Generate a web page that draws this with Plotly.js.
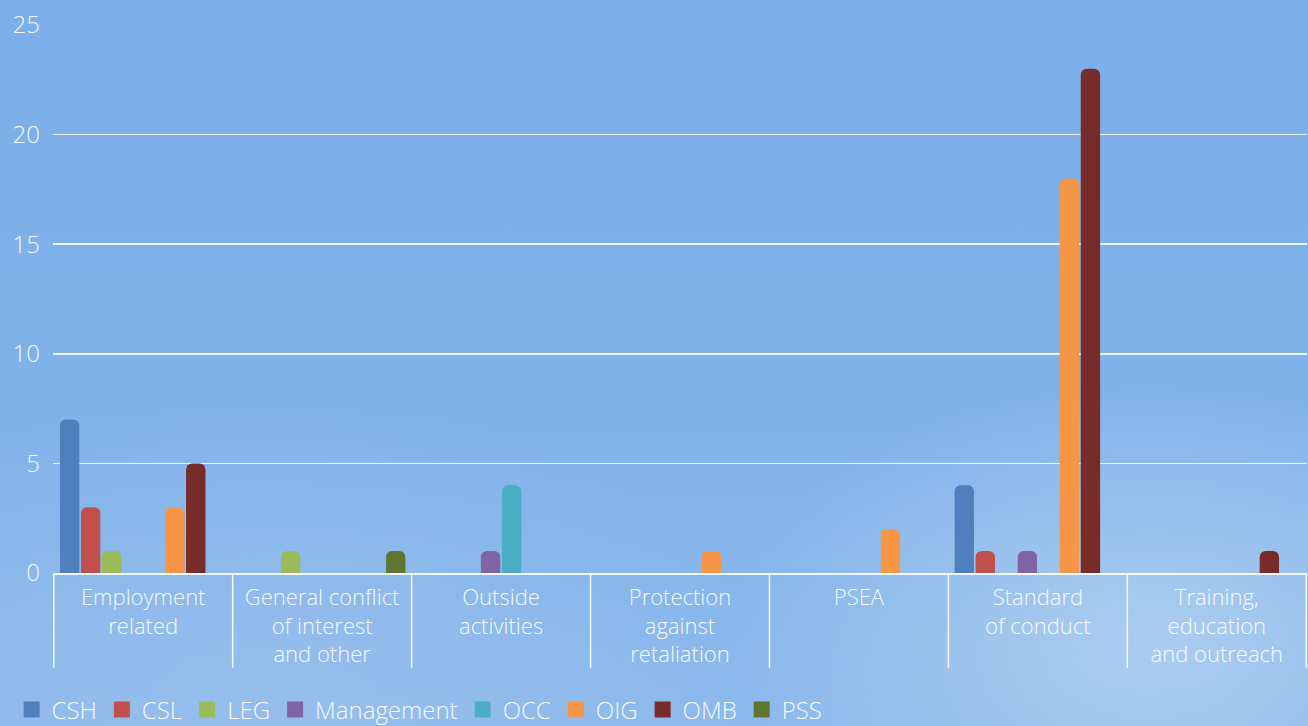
<!DOCTYPE html>
<html>
<head>
<meta charset="utf-8">
<script src="https://cdn.plot.ly/plotly-3.0.1.min.js"></script>
<style>
  html, body { margin: 0; padding: 0; width: 1308px; height: 726px; overflow: hidden; }
  body {
    background:
      radial-gradient(ellipse 420px 260px at 88% 88%, rgba(200,222,244,0.55), rgba(200,222,244,0) 100%),
      radial-gradient(ellipse 500px 300px at 20% 95%, rgba(170,200,238,0.35), rgba(170,200,238,0) 100%),
      linear-gradient(180deg, #7cafe9 0%, #80b2ea 55%, #8cb9eb 100%);
  }
  #chart { width: 1308px; height: 726px; }
</style>
</head>
<body>
<div id="chart"></div>
<script>
// Categories (x axis tick labels)
const categories = [
  "Employment<br>related",
  "General conflict<br>of interest<br>and other",
  "Outside<br>activities",
  "Protection<br>against<br>retaliation",
  "PSEA",
  "Standard<br>of conduct",
  "Training,<br>education<br>and outreach"
];

// Series names
const seriesNames = ["CSH", "CSL", "LEG", "Management", "OCC", "OIG", "OMB", "PSS"];

// Series values per category (null = no bar)
const CSH        = [7,    null, null, null, null, 4,    null];
const CSL        = [3,    null, null, null, null, 1,    null];
const LEG        = [1,    1,    null, null, null, null, null];
const Management = [null, null, 1,    null, null, 1,    null];
const OCC        = [null, null, 4,    null, null, null, null];
const OIG        = [3,    null, null, 1,    2,    18,   null];
const OMB        = [5,    null, null, null, null, 23,   1];
const PSS        = [null, 1,    null, null, null, null, null];

// Y tick values
const yTicks = [0, 5, 10, 15, 20, 25];

const seriesValues = [CSH, CSL, LEG, Management, OCC, OIG, OMB, PSS];
const seriesColors = ["#4f80bd", "#c0504d", "#9bbb59", "#8064a2", "#4bacc6", "#f79646", "#772c29", "#5e7631"];

const FONT = "'Open Sans', Roboto, sans-serif";
const TXT = "rgba(255,255,255,0.95)";

const barTraces = seriesNames.map((name, i) => ({
  type: "bar",
  name: name,
  legendgroup: name,
  showlegend: false,
  x: categories,
  y: seriesValues[i],
  marker: { color: seriesColors[i], cornerradius: 6, line: { width: 0 } },
  hoverinfo: "skip"
}));

// legend-only entries (square swatches), no marks drawn
const legendTraces = seriesNames.map((name, i) => ({
  type: "scatter",
  mode: "markers",
  name: name,
  legendgroup: name,
  showlegend: true,
  x: [null],
  y: [null],
  marker: { color: seriesColors[i], symbol: "square", size: 16 },
  hoverinfo: "skip"
}));

// divider lines between categories, extending below the axis
const shapes = [];
for (let k = 0; k <= categories.length; k++) {
  shapes.push({
    type: "line", xref: "x", yref: "paper",
    x0: k - 0.5, x1: k - 0.5, y0: 0, y1: -0.173,
    line: { color: "rgba(255,255,255,0.9)", width: 1.5 },
    layer: "above"
  });
}

const layout = {
  width: 1308, height: 726,
  margin: { l: 53, r: 1, t: 25, b: 153, autoexpand: false },
  paper_bgcolor: "rgba(0,0,0,0)",
  plot_bgcolor: "rgba(0,0,0,0)",
  barmode: "group",
  bargap: 0.06,
  bargroupgap: 0.08,
  font: { family: FONT, color: TXT, size: 22, weight: 300 },
  showlegend: true,
  legend: {
    orientation: "h",
    x: -0.033, xanchor: "left",
    y: -0.25, yanchor: "middle",
    font: { family: FONT, size: 24, color: TXT, weight: 300 },
    bgcolor: "rgba(0,0,0,0)",
    itemclick: false, itemdoubleclick: false
  },
  xaxis: {
    type: "category",
    tickfont: { family: FONT, size: 22, color: TXT, weight: 300 },
    showgrid: false,
    showline: true,
    linecolor: "rgba(255,255,255,0.9)",
    linewidth: 1.5,
    ticks: "",
    ticklabelstandoff: 4,
    fixedrange: true
  },
  yaxis: {
    range: [0, 25],
    tickvals: yTicks,
    ticktext: yTicks.map(String),
    tickfont: { family: FONT, size: 24, color: TXT, weight: 300 },
    showgrid: true,
    gridcolor: "rgba(255,255,255,0.85)",
    gridwidth: 1.5,
    zeroline: false,
    showline: false,
    ticks: "",
    ticklabelstandoff: 12,
    fixedrange: true
  },
  shapes: shapes
};

Plotly.newPlot("chart", barTraces.concat(legendTraces), layout, { staticPlot: true, displayModeBar: false });
</script>
</body>
</html>
